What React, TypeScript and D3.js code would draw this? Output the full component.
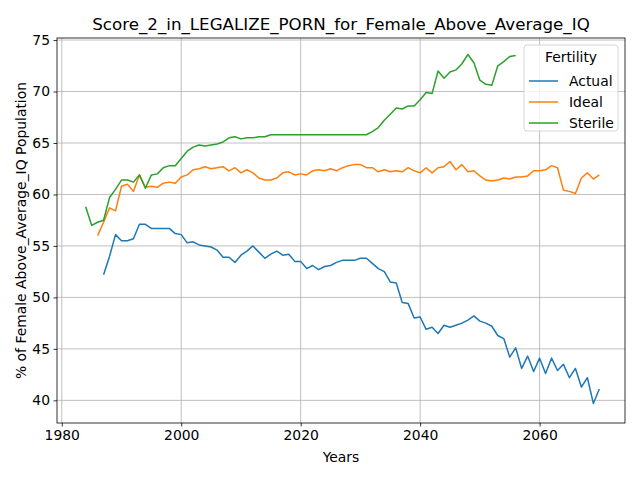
import { useEffect, useRef } from "react";
import * as d3 from "d3";

const actualStart = 1987;
const actual = [52.2, 54.0, 56.1, 55.5, 55.5, 55.7, 57.1, 57.1, 56.7, 56.7, 56.7, 56.7, 56.2, 56.1, 55.3, 55.4, 55.1, 55.0, 54.9, 54.6, 53.9, 53.9, 53.4, 54.1, 54.5, 55.0, 54.4, 53.8, 54.2, 54.5, 54.1, 54.2, 53.5, 53.5, 52.8, 53.1, 52.7, 53.0, 53.1, 53.4, 53.6, 53.6, 53.6, 53.8, 53.8, 53.3, 52.8, 52.5, 51.5, 51.4, 49.5, 49.4, 48.0, 48.1, 46.9, 47.1, 46.5, 47.3, 47.1, 47.3, 47.5, 47.8, 48.2, 47.7, 47.5, 47.2, 46.3, 46.0, 44.2, 45.1, 43.1, 44.3, 42.8, 44.1, 42.6, 44.1, 42.9, 43.5, 42.2, 43.1, 41.3, 42.2, 39.7, 41.1];

const idealStart = 1986;
const ideal = [56.0, 57.3, 58.7, 58.4, 60.8, 61.0, 60.3, 61.9, 60.7, 60.8, 60.7, 61.1, 61.2, 61.1, 61.7, 61.9, 62.4, 62.5, 62.7, 62.5, 62.6, 62.7, 62.3, 62.6, 62.1, 62.4, 62.1, 61.6, 61.4, 61.4, 61.6, 62.1, 62.2, 61.9, 62.0, 61.9, 62.3, 62.4, 62.3, 62.5, 62.3, 62.6, 62.8, 62.9, 62.9, 62.6, 62.6, 62.2, 62.4, 62.2, 62.3, 62.2, 62.6, 62.3, 62.1, 62.6, 62.1, 62.6, 62.7, 63.2, 62.4, 62.9, 62.2, 62.3, 61.8, 61.4, 61.3, 61.4, 61.6, 61.5, 61.7, 61.7, 61.8, 62.3, 62.3, 62.4, 62.8, 62.6, 60.4, 60.3, 60.1, 61.6, 62.1, 61.5, 61.9];

const sterileStart = 1984;
const sterile = [58.8, 57.0, 57.3, 57.5, 59.7, 60.5, 61.4, 61.4, 61.2, 61.9, 60.6, 61.9, 62.0, 62.6, 62.8, 62.8, 63.5, 64.2, 64.6, 64.8, 64.7, 64.8, 64.9, 65.1, 65.5, 65.6, 65.4, 65.5, 65.5, 65.6, 65.6, 65.8, 65.8, 65.8, 65.8, 65.8, 65.8, 65.8, 65.8, 65.8, 65.8, 65.8, 65.8, 65.8, 65.8, 65.8, 65.8, 65.8, 66.1, 66.5, 67.2, 67.8, 68.4, 68.3, 68.6, 68.6, 69.2, 69.9, 69.8, 72.0, 71.3, 71.9, 72.1, 72.7, 73.6, 72.8, 71.1, 70.7, 70.6, 72.5, 72.9, 73.4, 73.5];

const seriesNames = ["Actual", "Ideal", "Sterile"];
const colors = ["#1f77b4", "#ff7f0e", "#2ca02c"];
const xTicks = [1980, 2000, 2020, 2040, 2060];
const yTicks = [40, 45, 50, 55, 60, 65, 70, 75];

export default function App() {
  const ref = useRef<SVGSVGElement>(null);

  useEffect(() => {
    document.body.style.margin = "0";
    const W = 640, H = 480;
    const m = { left: 57, right: 625, top: 38, bottom: 423 };
    const fs = 13.9;
    const svg = d3.select(ref.current).html("");
    svg.attr("width", W).attr("height", H).style("font-family", "DejaVu Sans");

    const x = d3.scaleLinear().domain([1979.2, 2074.3]).range([m.left, m.right]);
    const y = d3.scaleLinear().domain([37.8, 75.2]).range([m.bottom, m.top]);

    svg.append("rect").attr("width", W).attr("height", H).attr("fill", "white");

    const grid = svg.append("g").attr("stroke", "#b0b0b0").attr("stroke-width", 0.8);
    xTicks.forEach((t) => grid.append("line").attr("x1", x(t)).attr("x2", x(t)).attr("y1", m.top).attr("y2", m.bottom));
    yTicks.forEach((t) => grid.append("line").attr("y1", y(t)).attr("y2", y(t)).attr("x1", m.left).attr("x2", m.right));

    const data = [
      { start: actualStart, vals: actual },
      { start: idealStart, vals: ideal },
      { start: sterileStart, vals: sterile },
    ];
    const line = d3.line<number>();
    data.forEach((s, i) => {
      svg.append("path")
        .attr("d", line(s.vals.map((v, j) => [x(s.start + j), y(v)]) as any))
        .attr("fill", "none").attr("stroke", colors[i]).attr("stroke-width", 1.5)
        .attr("stroke-linejoin", "round");
    });

    const xAxis = svg.append("g").attr("transform", `translate(0,${m.bottom})`)
      .call(d3.axisBottom(x).tickValues(xTicks).tickFormat(d3.format("d")).tickSize(3.5).tickPadding(3.5));
    const yAxis = svg.append("g").attr("transform", `translate(${m.left},0)`)
      .call(d3.axisLeft(y).tickValues(yTicks).tickSize(3.5).tickPadding(3.5));
    [xAxis, yAxis].forEach((a) => {
      a.select(".domain").remove();
      a.selectAll("text").attr("font-size", fs).attr("fill", "black").style("font-family", "DejaVu Sans");
      a.selectAll("line").attr("stroke", "black").attr("stroke-width", 0.8);
    });

    svg.append("rect").attr("x", m.left).attr("y", m.top).attr("width", m.right - m.left).attr("height", m.bottom - m.top)
      .attr("fill", "none").attr("stroke", "black").attr("stroke-width", 0.8);

    svg.append("text").attr("x", (m.left + m.right) / 2).attr("y", 30).attr("text-anchor", "middle")
      .attr("font-size", 16.7).text("Score_2_in_LEGALIZE_PORN_for_Female_Above_Average_IQ");
    svg.append("text").attr("x", (m.left + m.right) / 2).attr("y", 462).attr("text-anchor", "middle")
      .attr("font-size", fs).text("Years");
    svg.append("text").attr("transform", `translate(26,${(m.top + m.bottom) / 2}) rotate(-90)`).attr("text-anchor", "middle")
      .attr("font-size", fs).text("% of Female Above_Average_IQ Population");

    const lg = svg.append("g").attr("transform", "translate(524,45)");
    lg.append("rect").attr("width", 94).attr("height", 86).attr("rx", 3).attr("fill", "white")
      .attr("fill-opacity", 0.8).attr("stroke", "#cccccc").attr("stroke-width", 0.8);
    lg.append("text").attr("x", 47).attr("y", 17).attr("text-anchor", "middle").attr("font-size", fs).text("Fertility");
    seriesNames.forEach((n, i) => {
      const yy = 36 + i * 21;
      lg.append("line").attr("x1", 5).attr("x2", 34).attr("y1", yy).attr("y2", yy).attr("stroke", colors[i]).attr("stroke-width", 1.5);
      lg.append("text").attr("x", 45).attr("y", yy + 5).attr("font-size", fs).text(n);
    });
  }, []);

  return <svg ref={ref} style={{ display: "block" }} />;
}
